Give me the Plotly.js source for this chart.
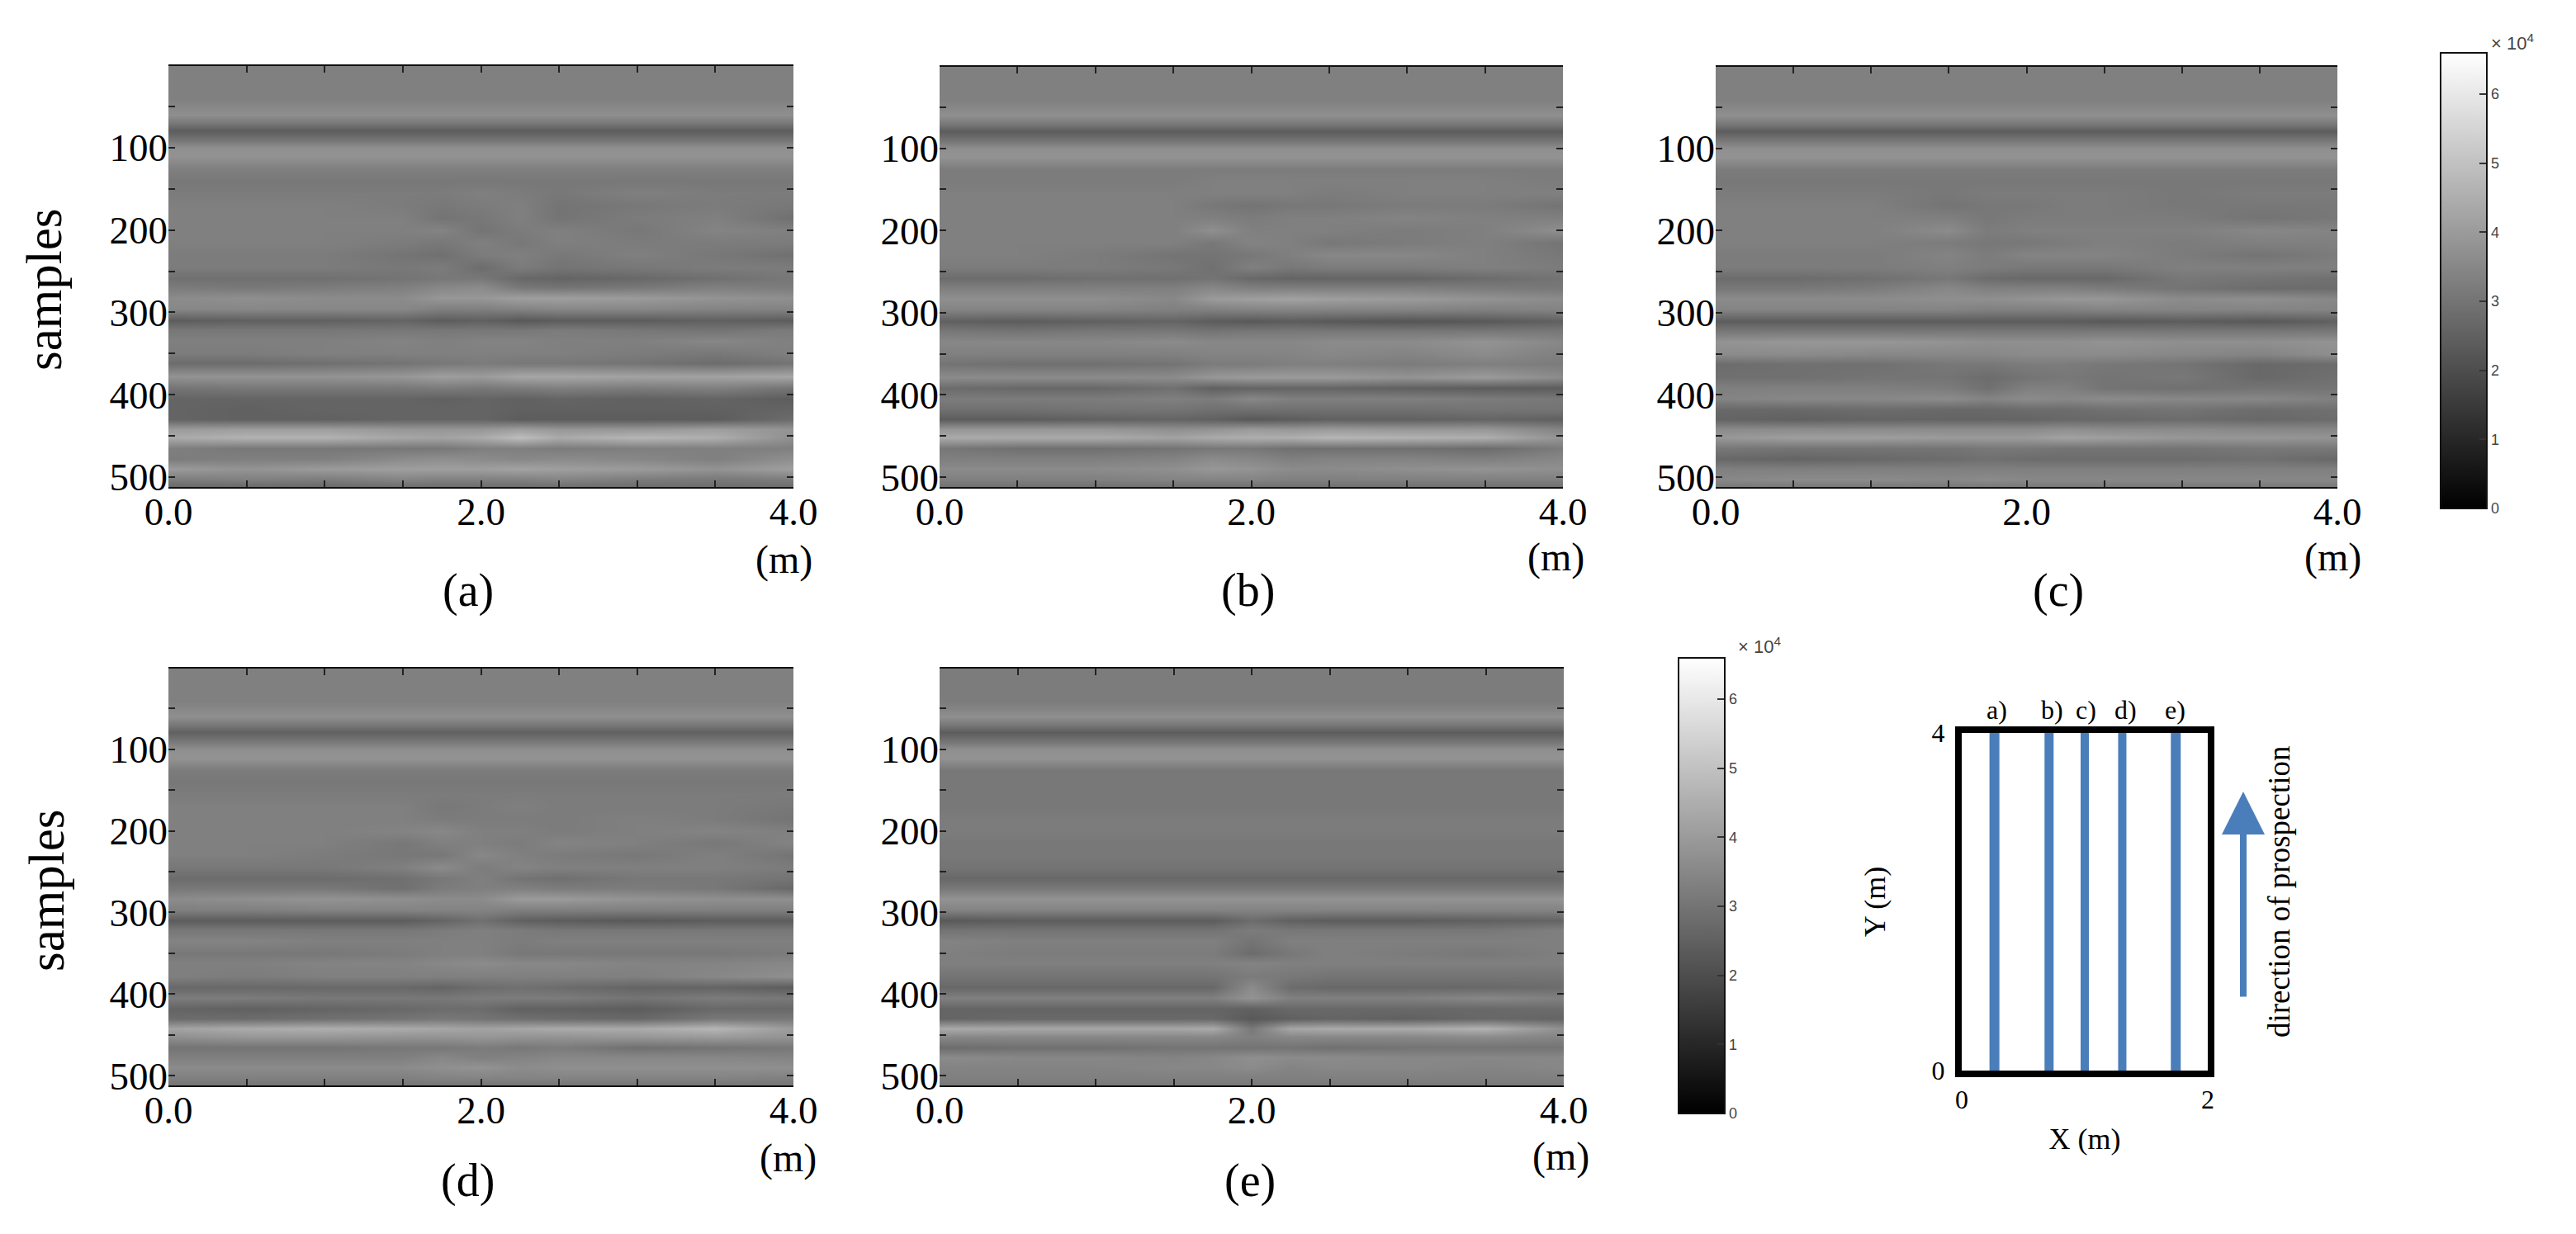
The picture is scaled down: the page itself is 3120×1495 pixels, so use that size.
<!DOCTYPE html>
<html>
<head>
<meta charset="utf-8">
<script src="https://cdn.plot.ly/plotly-3.0.1.min.js"></script>
<style>
    html, body { margin: 0; padding: 0; background: #fff; }
    #plot { width: 3120px; height: 1495px; }
</style>
</head>
<body>
<div id="plot"></div>
<script>
// sample depth of each row and distance (m) of each column
const depths = [1, 40, 50, 60, 70, 79, 90, 100, 110, 125, 140, 155, 170, 185, 200, 215, 230, 245, 258, 270, 283, 296, 310, 322, 335, 350, 362, 378, 392, 405, 418, 430, 442, 452, 465, 478, 490, 503, 512]
const distances = [0, 0.5, 1, 1.5, 1.75, 2, 2.25, 2.5, 3, 3.5, 4]

// amplitudes in units of 10^3
const panelA = [
    [33, 33, 33, 33, 33, 33, 33, 33, 33, 33, 33],
    [33, 33, 33, 33, 33, 33, 33, 33, 33, 33, 33],
    [35, 35, 35, 35, 35, 35, 35, 35, 35, 35, 35],
    [37, 37, 37, 37, 37, 37, 37, 37, 37, 37, 37],
    [31, 31, 31, 31, 31, 31, 31, 31, 31, 31, 31],
    [24, 24, 24, 24, 24, 24, 24, 24, 24, 24, 24],
    [30, 30, 30, 30, 30, 30, 30, 30, 30, 30, 30],
    [37, 37, 37, 37, 37, 37, 37, 37, 37, 37, 37],
    [38, 38, 38, 38, 38, 38, 38, 38, 38, 38, 38],
    [33, 33, 33, 33, 33, 33, 33, 33, 33, 33, 33],
    [31, 31, 31, 31, 31, 31, 31, 31, 31, 31, 31],
    [32, 32, 32, 32, 32, 33, 32, 31, 33, 32, 32],
    [33, 33, 33, 32, 31, 32, 33, 30, 31, 32, 31],
    [33, 33, 33, 33, 30, 31, 33, 30, 32, 33, 29],
    [33, 33, 33, 33, 34, 30, 32, 33, 31, 34, 33],
    [33, 33, 33, 32, 31, 33, 31, 33, 32, 32, 32],
    [32, 32, 32, 30, 29, 32, 33, 31, 33, 31, 29],
    [32, 32, 32, 31, 32, 28, 32, 30, 31, 32, 32],
    [29, 29, 29, 30, 31, 31, 27, 26, 27, 29, 31],
    [32, 31, 32, 33, 35, 36, 31, 30, 31, 33, 32],
    [36, 37, 36, 36, 39, 39, 41, 41, 40, 38, 37],
    [35, 35, 35, 35, 33, 33, 34, 35, 35, 34, 34],
    [24, 25, 25, 26, 24, 25, 23, 24, 24, 25, 24],
    [31, 31, 31, 31, 31, 31, 31, 32, 31, 30, 32],
    [33, 33, 33, 34, 33, 34, 34, 33, 33, 35, 33],
    [32, 32, 33, 33, 33, 33, 33, 33, 32, 31, 33],
    [28, 28, 29, 30, 31, 32, 31, 31, 30, 28, 30],
    [38, 38, 38, 39, 41, 40, 43, 43, 42, 42, 43],
    [30, 31, 31, 31, 32, 31, 32, 33, 32, 33, 30],
    [26, 26, 26, 26, 25, 26, 25, 26, 25, 26, 24],
    [26, 25, 26, 26, 26, 26, 25, 25, 25, 25, 26],
    [26, 25, 25, 26, 26, 26, 24, 24, 24, 24, 28],
    [40, 41, 41, 39, 39, 39, 41, 39, 39, 41, 38],
    [44, 46, 46, 43, 42, 44, 49, 44, 47, 45, 37],
    [33, 31, 31, 31, 31, 33, 33, 32, 33, 33, 33],
    [32, 33, 33, 36, 37, 36, 35, 36, 35, 33, 37],
    [40, 38, 40, 41, 41, 41, 42, 41, 40, 38, 41],
    [32, 33, 32, 34, 33, 33, 33, 34, 32, 31, 32],
    [27, 27, 27, 28, 28, 28, 28, 28, 28, 28, 28]
]
const panelB = [
    [33, 33, 33, 33, 33, 33, 33, 33, 33, 33, 33],
    [33, 33, 33, 33, 33, 33, 33, 33, 33, 33, 33],
    [35, 35, 35, 35, 35, 35, 35, 35, 35, 35, 35],
    [37, 37, 37, 37, 37, 37, 37, 37, 37, 37, 37],
    [31, 31, 31, 31, 31, 31, 31, 31, 31, 31, 31],
    [24, 24, 24, 24, 24, 24, 24, 24, 24, 24, 24],
    [30, 30, 30, 30, 30, 30, 30, 30, 30, 30, 30],
    [37, 37, 37, 37, 37, 37, 37, 37, 37, 37, 37],
    [38, 38, 38, 38, 38, 38, 38, 38, 38, 38, 38],
    [32, 32, 32, 32, 32, 32, 32, 32, 32, 32, 32],
    [32, 32, 32, 32, 33, 33, 33, 33, 33, 33, 32],
    [33, 33, 33, 33, 33, 33, 33, 32, 33, 33, 33],
    [33, 33, 33, 33, 31, 30, 31, 31, 32, 32, 30],
    [33, 33, 33, 33, 33, 32, 33, 33, 34, 33, 33],
    [33, 33, 33, 33, 37, 33, 33, 33, 32, 33, 37],
    [33, 33, 33, 33, 31, 34, 33, 31, 32, 33, 30],
    [33, 33, 32, 30, 30, 31, 33, 35, 35, 33, 31],
    [32, 32, 32, 31, 29, 33, 31, 32, 32, 33, 32],
    [28, 28, 29, 29, 30, 27, 26, 26, 26, 28, 30],
    [33, 33, 33, 33, 35, 33, 33, 33, 33, 32, 31],
    [37, 37, 37, 35, 40, 41, 42, 41, 40, 38, 36],
    [34, 34, 34, 33, 33, 34, 34, 34, 34, 33, 34],
    [25, 24, 25, 26, 24, 23, 24, 23, 22, 23, 25],
    [31, 30, 31, 31, 30, 31, 31, 31, 31, 31, 31],
    [35, 35, 35, 36, 35, 35, 35, 36, 36, 38, 35],
    [33, 33, 33, 33, 34, 34, 34, 35, 34, 36, 33],
    [30, 29, 29, 30, 32, 32, 33, 33, 32, 33, 32],
    [36, 36, 36, 36, 39, 40, 40, 40, 38, 40, 36],
    [28, 27, 27, 29, 25, 26, 26, 26, 25, 24, 24],
    [32, 32, 32, 33, 32, 35, 33, 33, 33, 32, 31],
    [29, 29, 30, 30, 29, 29, 29, 29, 29, 30, 30],
    [24, 24, 25, 26, 25, 23, 24, 25, 25, 26, 25],
    [39, 39, 39, 37, 38, 40, 39, 40, 39, 39, 34],
    [44, 44, 44, 42, 44, 45, 45, 47, 46, 45, 38],
    [31, 29, 29, 30, 31, 31, 29, 29, 29, 28, 32],
    [33, 33, 33, 34, 36, 35, 33, 34, 34, 33, 35],
    [36, 36, 36, 37, 39, 38, 36, 36, 37, 38, 37],
    [33, 33, 33, 34, 34, 34, 33, 33, 33, 33, 33],
    [29, 29, 29, 29, 29, 29, 29, 29, 29, 29, 29]
]
const panelC = [
    [33, 33, 33, 33, 33, 33, 33, 33, 33, 33, 33],
    [33, 33, 33, 33, 33, 33, 33, 33, 33, 33, 33],
    [35, 35, 35, 35, 35, 35, 35, 35, 35, 35, 35],
    [37, 37, 37, 37, 37, 37, 37, 37, 37, 37, 37],
    [31, 31, 31, 31, 31, 31, 31, 31, 31, 31, 31],
    [24, 24, 24, 24, 24, 24, 24, 24, 24, 24, 24],
    [31, 31, 31, 31, 31, 31, 31, 31, 31, 31, 31],
    [37, 37, 37, 37, 37, 37, 37, 37, 37, 37, 37],
    [38, 38, 38, 38, 38, 38, 38, 38, 38, 38, 38],
    [32, 32, 32, 32, 32, 32, 32, 32, 32, 32, 32],
    [31, 31, 31, 31, 31, 31, 31, 31, 31, 31, 31],
    [32, 32, 32, 31, 32, 32, 32, 32, 31, 32, 32],
    [33, 33, 33, 30, 31, 31, 32, 32, 31, 31, 31],
    [33, 33, 33, 33, 31, 32, 32, 32, 32, 30, 31],
    [33, 33, 33, 36, 32, 33, 33, 33, 33, 35, 34],
    [33, 33, 33, 32, 31, 31, 32, 33, 32, 33, 33],
    [32, 32, 32, 34, 32, 34, 34, 34, 32, 30, 32],
    [32, 32, 32, 33, 32, 31, 31, 31, 33, 33, 33],
    [28, 28, 29, 31, 28, 27, 27, 27, 31, 30, 29],
    [31, 31, 32, 35, 33, 33, 33, 32, 30, 28, 28],
    [36, 36, 36, 37, 37, 38, 39, 39, 36, 37, 35],
    [34, 34, 34, 34, 33, 33, 33, 34, 34, 34, 34],
    [24, 24, 24, 24, 24, 24, 24, 23, 24, 23, 25],
    [31, 31, 31, 31, 31, 31, 31, 31, 31, 31, 31],
    [38, 39, 39, 38, 37, 37, 37, 38, 37, 37, 38],
    [36, 36, 35, 35, 35, 36, 36, 36, 35, 34, 37],
    [28, 29, 29, 31, 31, 32, 32, 31, 30, 27, 28],
    [29, 29, 30, 30, 28, 30, 31, 30, 31, 27, 29],
    [33, 33, 33, 32, 29, 33, 33, 30, 29, 30, 30],
    [34, 35, 35, 36, 34, 36, 35, 36, 35, 35, 33],
    [27, 27, 28, 27, 27, 28, 28, 29, 30, 28, 29],
    [26, 25, 26, 26, 26, 26, 27, 27, 28, 27, 28],
    [36, 36, 36, 36, 36, 36, 37, 36, 36, 35, 35],
    [39, 41, 41, 40, 40, 40, 42, 41, 39, 39, 38],
    [31, 30, 30, 30, 31, 31, 30, 30, 30, 31, 31],
    [27, 26, 27, 28, 29, 28, 28, 28, 28, 29, 27],
    [33, 33, 33, 33, 33, 33, 33, 33, 33, 33, 33],
    [35, 36, 36, 35, 36, 35, 35, 35, 35, 35, 35],
    [31, 31, 31, 31, 31, 31, 31, 31, 31, 31, 31]
]
const panelD = [
    [33, 33, 33, 33, 33, 33, 33, 33, 33, 33, 33],
    [33, 33, 33, 33, 33, 33, 33, 33, 33, 33, 33],
    [35, 35, 35, 35, 35, 35, 35, 35, 35, 35, 35],
    [37, 37, 37, 37, 37, 37, 37, 37, 37, 37, 37],
    [31, 31, 31, 31, 31, 31, 31, 31, 31, 31, 31],
    [25, 25, 25, 25, 25, 25, 25, 25, 25, 25, 25],
    [31, 31, 31, 31, 31, 31, 31, 31, 31, 31, 31],
    [37, 37, 37, 37, 37, 37, 37, 37, 37, 37, 37],
    [38, 38, 38, 38, 38, 38, 38, 38, 38, 38, 38],
    [32, 32, 32, 32, 32, 32, 32, 32, 32, 32, 32],
    [31, 31, 31, 31, 31, 31, 31, 31, 31, 31, 31],
    [32, 32, 32, 32, 32, 32, 32, 32, 32, 32, 32],
    [33, 33, 33, 33, 31, 32, 33, 32, 32, 32, 31],
    [33, 33, 33, 33, 32, 32, 32, 32, 33, 32, 30],
    [33, 33, 33, 34, 35, 33, 33, 32, 33, 34, 33],
    [33, 33, 33, 31, 33, 33, 32, 34, 33, 31, 34],
    [33, 33, 32, 31, 31, 35, 33, 32, 31, 33, 30],
    [31, 31, 31, 33, 36, 32, 34, 33, 33, 33, 32],
    [28, 28, 28, 29, 31, 33, 30, 29, 31, 31, 30],
    [31, 31, 31, 29, 32, 33, 33, 32, 32, 31, 27],
    [36, 37, 38, 37, 36, 36, 40, 40, 38, 37, 37],
    [33, 33, 34, 34, 34, 34, 33, 33, 33, 33, 33],
    [24, 24, 24, 24, 26, 29, 25, 24, 23, 24, 24],
    [31, 31, 31, 31, 32, 33, 32, 31, 31, 31, 31],
    [34, 34, 33, 33, 33, 33, 32, 33, 33, 33, 33],
    [31, 31, 31, 32, 33, 33, 31, 31, 31, 31, 32],
    [33, 33, 34, 34, 35, 36, 35, 35, 34, 34, 35],
    [33, 32, 33, 33, 33, 33, 33, 33, 33, 35, 37],
    [27, 27, 27, 27, 26, 28, 29, 28, 26, 26, 24],
    [32, 32, 31, 31, 31, 32, 32, 32, 30, 32, 31],
    [26, 25, 26, 27, 28, 28, 25, 25, 24, 27, 27],
    [28, 28, 29, 30, 31, 30, 29, 28, 27, 31, 31],
    [42, 44, 45, 44, 43, 42, 43, 44, 44, 47, 40],
    [37, 39, 39, 38, 38, 39, 38, 38, 39, 40, 38],
    [30, 30, 30, 31, 31, 32, 31, 32, 29, 30, 31],
    [33, 33, 33, 33, 35, 33, 34, 35, 35, 35, 34],
    [36, 36, 36, 36, 37, 38, 36, 37, 37, 37, 37],
    [33, 33, 33, 33, 34, 34, 34, 34, 34, 34, 33],
    [30, 30, 30, 30, 30, 30, 30, 30, 30, 30, 30]
]
const panelE = [
    [32, 32, 32, 32, 32, 32, 32, 32, 32, 32, 32],
    [32, 32, 32, 32, 32, 32, 32, 32, 32, 32, 32],
    [34, 34, 34, 34, 34, 34, 34, 34, 34, 34, 34],
    [37, 37, 37, 37, 37, 37, 37, 37, 37, 37, 37],
    [31, 31, 31, 31, 31, 31, 31, 31, 31, 31, 31],
    [24, 24, 24, 24, 24, 24, 24, 24, 24, 24, 24],
    [30, 30, 30, 30, 30, 30, 30, 30, 30, 30, 30],
    [37, 37, 37, 37, 37, 37, 37, 37, 37, 37, 37],
    [38, 38, 38, 38, 38, 38, 38, 38, 38, 38, 38],
    [31, 31, 31, 31, 31, 31, 31, 31, 31, 31, 31],
    [31, 31, 31, 31, 31, 31, 31, 31, 31, 31, 31],
    [31, 31, 31, 31, 31, 31, 31, 31, 31, 31, 31],
    [31, 31, 31, 31, 31, 31, 31, 31, 31, 31, 31],
    [32, 32, 32, 32, 32, 32, 32, 32, 32, 32, 32],
    [32, 32, 32, 32, 32, 32, 32, 32, 32, 32, 32],
    [31, 31, 31, 31, 31, 31, 31, 31, 31, 31, 31],
    [31, 31, 31, 31, 31, 31, 31, 31, 31, 31, 31],
    [30, 30, 30, 30, 30, 30, 30, 30, 30, 30, 30],
    [27, 27, 27, 27, 27, 27, 27, 27, 27, 27, 27],
    [31, 31, 31, 31, 31, 31, 31, 31, 31, 31, 31],
    [38, 38, 38, 38, 38, 38, 38, 38, 38, 38, 38],
    [34, 34, 34, 34, 34, 34, 34, 34, 34, 34, 34],
    [23, 24, 24, 24, 24, 28, 25, 24, 24, 25, 26],
    [30, 30, 30, 30, 30, 32, 31, 31, 31, 31, 33],
    [34, 33, 33, 33, 33, 30, 33, 33, 33, 33, 33],
    [33, 32, 32, 32, 32, 28, 31, 33, 32, 31, 33],
    [33, 33, 33, 33, 33, 34, 33, 33, 33, 33, 33],
    [30, 30, 30, 30, 30, 32, 31, 30, 30, 30, 30],
    [27, 27, 27, 27, 27, 36, 28, 27, 27, 27, 28],
    [33, 33, 33, 33, 33, 38, 33, 33, 33, 35, 33],
    [26, 26, 26, 26, 26, 25, 27, 27, 27, 27, 28],
    [26, 27, 27, 27, 27, 23, 25, 26, 25, 27, 26],
    [44, 43, 43, 43, 44, 31, 43, 44, 44, 46, 37],
    [35, 35, 35, 35, 35, 33, 35, 35, 35, 36, 34],
    [28, 29, 29, 30, 30, 30, 30, 29, 30, 30, 30],
    [36, 35, 35, 34, 35, 37, 36, 36, 35, 35, 35],
    [34, 34, 34, 35, 35, 36, 34, 35, 35, 34, 35],
    [33, 33, 33, 33, 33, 33, 33, 33, 33, 33, 33],
    [31, 31, 31, 31, 31, 31, 31, 31, 31, 31, 31]
]

// tick labels
const xTickVals = [0, 0.5, 1, 1.5, 2, 2.5, 3, 3.5, 4]
const xTickText = ['0.0', '', '', '', '2.0', '', '', '', '4.0']
const yTickVals = [50, 100, 150, 200, 250, 300, 350, 400, 450, 500]
const yTickText = ['', '100', '', '200', '', '300', '', '400', '', '500']
const barTickVals = [0, 10, 20, 30, 40, 50, 60]
const barTickText = ['0', '1', '2', '3', '4', '5', '6']

// survey map: profile positions along X (m)
const profileNames = ['a)', 'b)', 'c)', 'd)', 'e)']
const profileX = [0.266, 0.71, 1.0, 1.305, 1.74]
const profileWidths = [12, 11, 10, 10, 12]
const mapY = [0, 4]

const W = 3120
const H = 1495
const SERIF = '"Liberation Serif", "Times New Roman", serif'
const SANS = '"Liberation Sans", Arial, sans-serif'
const BLUE = '#4a7ebb'

function domX(a, b) { return [a / W, b / W] }
function domY(top, bottom) { return [1 - bottom / H, 1 - top / H] }

function panelAxes(i, box) {
    const x = {
        domain: domX(box[0], box[1]), range: [0, 4], anchor: 'y' + i,
        tickmode: 'array', tickvals: xTickVals, ticktext: xTickText,
        ticks: 'inside', ticklen: 8, tickwidth: 2, tickcolor: '#222',
        showline: true, linecolor: '#111', linewidth: 2, mirror: 'ticks',
        showgrid: false, zeroline: false, ticklabelstandoff: -12,
        tickfont: { family: SERIF, size: 47, color: '#000' }
    }
    const y = {
        domain: domY(box[2], box[3]), range: [512, 1], anchor: 'x' + i,
        tickmode: 'array', tickvals: yTickVals, ticktext: yTickText,
        ticks: 'inside', ticklen: 8, tickwidth: 2, tickcolor: '#222',
        showline: false, mirror: 'ticks',
        showgrid: false, zeroline: false,
        tickfont: { family: SERIF, size: 47, color: '#000' }
    }
    return [x, y]
}

function heat(z, i, colorbar) {
    const trace = {
        type: 'heatmap', x: distances, y: depths, z: z,
        xaxis: 'x' + i, yaxis: 'y' + i,
        zmin: 0, zmax: 66, zsmooth: 'best',
        colorscale: [[0, '#000000'], [1, '#ffffff']],
        showscale: false
    }
    if (colorbar) {
        trace.showscale = true
        trace.colorbar = {
            x: colorbar[0] / W, xanchor: 'left', xpad: 0,
            y: 1 - colorbar[3] / H, yanchor: 'bottom', ypad: 0,
            thicknessmode: 'pixels', thickness: colorbar[1] - colorbar[0],
            lenmode: 'pixels', len: colorbar[3] - colorbar[2],
            outlinecolor: '#111', outlinewidth: 2,
            tickmode: 'array', tickvals: barTickVals, ticktext: barTickText,
            ticks: 'inside', ticklen: 10, tickwidth: 2, tickcolor: '#333',
            tickfont: { family: SANS, size: 18, color: '#444' }
        }
    }
    return trace
}

function label(text, x, y, size, angle) {
    return {
        xref: 'paper', yref: 'paper', x: x / W, y: 1 - y / H,
        xanchor: 'center', yanchor: 'middle', showarrow: false,
        text: text, textangle: angle || 0,
        font: { family: SERIF, size: size, color: '#000' }
    }
}

const boxes = [
    [204, 961, 80, 590],
    [1138, 1893, 81, 590],
    [2078, 2831, 81, 590],
    [204, 961, 810, 1315],
    [1138, 1894, 810, 1315]
]
const bar1 = [2956, 3012, 64, 616]
const bar2 = [2033, 2089, 797, 1349]

const data = [
    heat(panelA, 1, bar1),
    heat(panelB, 2),
    heat(panelC, 3),
    heat(panelD, 4),
    heat(panelE, 5, bar2)
]

// profile lines of the survey map
profileX.forEach((px, k) => {
    data.push({
        type: 'scatter', mode: 'lines', name: profileNames[k],
        x: [px, px], y: mapY, xaxis: 'x6', yaxis: 'y6',
        line: { color: BLUE, width: profileWidths[k] }, showlegend: false
    })
})

const layout = {
    width: W, height: H,
    margin: { l: 0, r: 0, t: 0, b: 0, autoexpand: false },
    paper_bgcolor: '#fff', plot_bgcolor: '#fff',
    showlegend: false,
    annotations: [], shapes: []
}

boxes.forEach((box, k) => {
    const i = k + 1
    const axes = panelAxes(i, box)
    layout['xaxis' + i] = axes[0]
    layout['yaxis' + i] = axes[1]
})

layout.xaxis6 = {
    domain: domX(2376, 2674), range: [0, 2], anchor: 'y6',
    tickmode: 'array', tickvals: [0, 2], ticktext: ['0', '2'], ticks: '',
    showline: true, linecolor: '#000', linewidth: 8, mirror: true,
    showgrid: false, zeroline: false, ticklabelstandoff: 0,
    tickfont: { family: SERIF, size: 32, color: '#000' },
    title: { text: 'X (m)', font: { family: SERIF, size: 36, color: '#000' }, standoff: 20 }
}
layout.yaxis6 = {
    domain: domY(888, 1297), range: [0, 4], anchor: 'x6',
    tickmode: 'array', tickvals: [0, 4], ticktext: ['0', '4'], ticks: '',
    showline: true, linecolor: '#000', linewidth: 8, mirror: true,
    showgrid: false, zeroline: false, ticklabelstandoff: 6,
    tickfont: { family: SERIF, size: 32, color: '#000' },
    title: { text: 'Y (m)', font: { family: SERIF, size: 36, color: '#000' }, standoff: 48 }
}

const sampleLabels = [[53, 350], [56, 1078]]
sampleLabels.forEach((p) => layout.annotations.push(label('samples', p[0], p[1], 61, -90)))

const panelLabels = [['(a)', 567, 715], ['(b)', 1511, 715], ['(c)', 2493, 715], ['(d)', 566, 1430], ['(e)', 1514, 1430]]
panelLabels.forEach((p) => layout.annotations.push(label(p[0], p[1], p[2], 56)))

const unitLabels = [[950, 678], [1885, 675], [2825, 675], [954, 1403], [1891, 1401]]
unitLabels.forEach((p) => layout.annotations.push(label('(m)', p[0], p[1], 48)))

// profile letters above the map
const profileLabelX = [2418, 2485, 2526, 2574, 2634]
profileNames.forEach((n, k) => layout.annotations.push(label(n, profileLabelX[k], 860, 32)))

layout.annotations.push(label('direction of prospection', 2760, 1081, 37, -90))

// arrow next to the map
layout.annotations.push({
    xref: 'paper', yref: 'paper', x: 2717 / W, y: 1 - 959 / H,
    axref: 'pixel', ayref: 'pixel', ax: 0, ay: 250,
    text: '', showarrow: true, arrowhead: 2, arrowsize: 1.3, arrowwidth: 8, arrowcolor: BLUE
})

// colorbar exponents and the left-hand ticks of the colorbars
const barExp = [[3043, 51, bar1], [2131, 782, bar2]]
barExp.forEach((b) => {
    const a = label('× 10<sup>4</sup>', b[0], b[1], 22)
    a.font = { family: SANS, size: 22, color: '#444' }
    layout.annotations.push(a)
    barTickVals.forEach((v) => {
        const bar = b[2]
        const py = bar[3] - (bar[3] - bar[2]) * v / 66
        layout.shapes.push({
            type: 'line', xref: 'paper', yref: 'paper',
            x0: bar[0] / W, x1: (bar[0] + 10) / W, y0: 1 - py / H, y1: 1 - py / H,
            line: { color: '#333', width: 2 }
        })
    })
})

Plotly.newPlot('plot', data, layout, { displayModeBar: false, staticPlot: true })
</script>
</body>
</html>
